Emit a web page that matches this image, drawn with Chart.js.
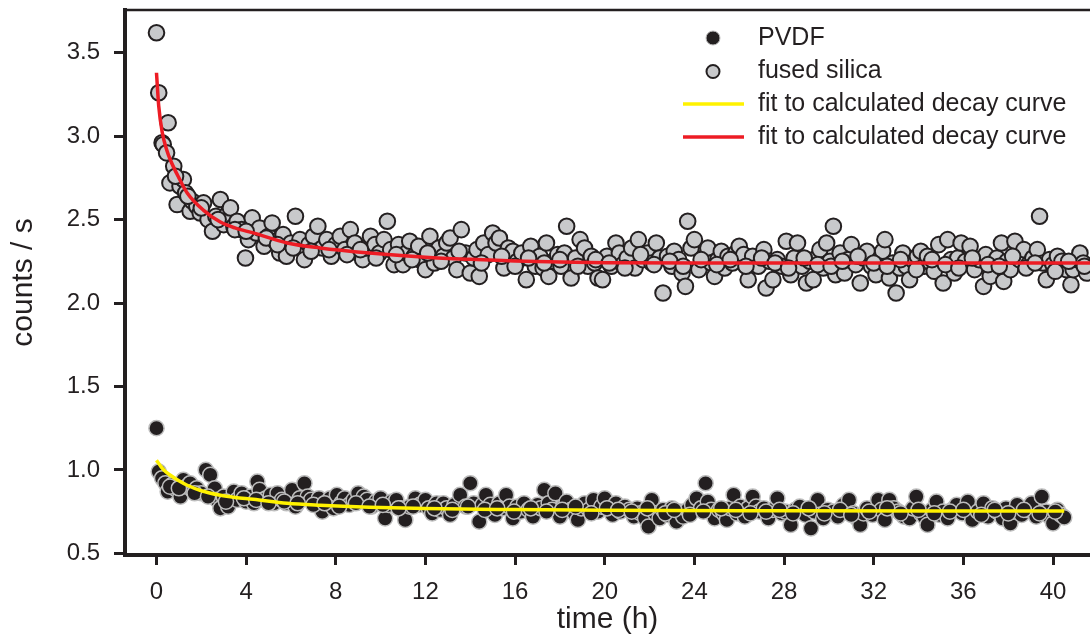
<!DOCTYPE html>
<html>
<head>
<meta charset="utf-8">
<script src="https://cdn.jsdelivr.net/npm/chart.js@4.4.1/dist/chart.umd.min.js"></script>
<style>
  body { margin: 0; background: #fff; }
  #wrap { width: 1090px; height: 639px; }
</style>
</head>
<body>
<div id="wrap"><canvas id="decayChart" width="1090" height="639"></canvas></div>
<script>
// fused silica, time (h) / counts per s
const silicaTime = [
  0, 0.1, 0.25, 0.3, 0.52, 0.6, 0.77, 0.92, 1.05, 1.2,
  1.3, 1.5, 1.6, 1.8, 1.95, 2.1, 2.3, 2.5, 2.65, 2.85,
  3.0, 3.15, 3.3, 3.45, 3.6, 3.8, 3.97, 4.1, 4.27, 4.45,
  4.6, 4.8, 5.0, 5.16, 5.3, 5.5, 5.65, 5.8, 6.0, 6.2,
  6.4, 6.6, 6.8, 7.0, 7.2, 7.4, 7.6, 7.8, 8.0, 8.2,
  8.4, 8.65, 8.85, 9.0, 9.2, 9.35, 9.55, 9.75, 9.95, 10.15,
  10.3, 10.45, 10.6, 10.8, 11.0, 11.15, 11.3, 11.5, 11.7, 11.85,
  12.0, 12.2, 12.4, 12.6, 12.8, 12.95, 13.1, 13.25, 13.4, 13.6,
  13.8, 14.0, 14.15, 14.3, 14.4, 14.6, 14.8, 15.0, 15.15, 15.3,
  15.5, 15.7, 15.9, 16.1, 16.3, 16.5, 16.7, 16.9, 17.1, 17.25,
  17.4, 17.5, 17.7, 17.9, 18.05, 18.2, 18.3, 18.5, 18.7, 18.9,
  19.1, 19.25, 19.4, 19.55, 19.7, 19.9, 20.1, 20.3, 20.5, 20.65,
  20.8, 21.0, 21.2, 21.35, 21.5, 21.7, 21.9, 22.1, 22.3, 22.45,
  22.6, 22.8, 23.0, 23.1, 23.3, 23.45, 23.6, 23.7, 23.85, 24.0,
  24.2, 24.4, 24.6, 24.75, 24.9, 25.05, 25.2, 25.35, 25.5, 25.7,
  25.85, 26.0, 26.2, 26.4, 26.6, 26.85, 27.1, 27.2, 27.35, 27.5,
  27.7, 27.9, 28.1, 28.3, 28.45, 28.6, 28.8, 29.0, 29.15, 29.3,
  29.45, 29.6, 29.75, 29.9, 30.05, 30.2, 30.3, 30.5, 30.7, 30.85,
  31.0, 31.2, 31.4, 31.55, 31.7, 31.9, 32.1, 32.25, 32.4, 32.5,
  32.7, 32.85, 33.0, 33.15, 33.3, 33.45, 33.6, 33.8, 33.95, 34.1,
  34.25, 34.4, 34.55, 34.7, 34.9, 35.1, 35.3, 35.45, 35.6, 35.75,
  35.9, 36.1, 36.3, 36.5, 36.7, 36.9, 37.0, 37.2, 37.35, 37.5,
  37.7, 37.8, 37.95, 38.1, 38.3, 38.5, 38.7, 38.9, 39.1, 39.3,
  39.4, 39.55, 39.7, 39.85, 40.0, 40.2, 40.4, 40.6, 40.8, 40.9,
  41.05, 41.2, 41.35, 41.5,
  // points hidden inside the band
  0.45, 0.85, 1.4, 2.0, 2.75, 3.5, 4.0, 4.9, 5.4, 6.1,
  6.9, 7.7, 8.5, 9.1, 9.8, 10.7, 11.4, 12.1, 12.7, 13.5,
  14.5, 15.4, 16.0, 16.6, 17.3, 18.0, 18.8, 19.6, 20.2, 20.9,
  21.6, 22.2, 22.9, 23.5, 24.3, 25.0, 25.6, 26.3, 27.0, 27.6,
  28.2, 28.9, 29.5, 30.1, 30.6, 31.3, 32.0, 32.6, 33.2, 33.9,
  34.6, 35.2, 35.8, 36.4, 37.1, 37.6, 38.2, 38.8, 39.2, 40.1,
  40.7, 41.4
];
const silicaCounts = [
  3.62, 3.26, 2.96, 2.95, 3.08, 2.72, 2.82, 2.59, 2.70, 2.74,
  2.66, 2.55, 2.61, 2.58, 2.54, 2.60, 2.50, 2.43, 2.52, 2.62,
  2.47, 2.53, 2.57, 2.46, 2.49, 2.44, 2.27, 2.38, 2.51, 2.42,
  2.45, 2.34, 2.40, 2.48, 2.37, 2.30, 2.41, 2.28, 2.36, 2.52,
  2.38, 2.26, 2.35, 2.40, 2.46, 2.33, 2.38, 2.28, 2.35, 2.40,
  2.32, 2.44, 2.36, 2.30, 2.26, 2.33, 2.40, 2.35, 2.30, 2.38,
  2.49, 2.32, 2.23, 2.35, 2.23, 2.30, 2.37, 2.28, 2.34, 2.25,
  2.20, 2.40, 2.24, 2.33, 2.28, 2.36, 2.39, 2.27, 2.20, 2.44,
  2.30, 2.18, 2.27, 2.32, 2.16, 2.36, 2.29, 2.42, 2.36, 2.39,
  2.21, 2.33, 2.31, 2.25, 2.30, 2.14, 2.34, 2.22, 2.28, 2.21,
  2.36, 2.16, 2.25, 2.29, 2.22, 2.30, 2.46, 2.15, 2.27, 2.38,
  2.33, 2.22, 2.28, 2.24, 2.15, 2.14, 2.28, 2.22, 2.36, 2.30,
  2.23, 2.27, 2.33, 2.21, 2.38, 2.26, 2.30, 2.24, 2.36, 2.27,
  2.06, 2.28, 2.22, 2.31, 2.26, 2.18, 2.10, 2.49, 2.33, 2.38,
  2.20, 2.27, 2.33, 2.24, 2.16, 2.26, 2.31, 2.21, 2.28, 2.24,
  2.30, 2.34, 2.29, 2.14, 2.28, 2.22, 2.32, 2.09, 2.25, 2.14,
  2.26, 2.22, 2.37, 2.17, 2.27, 2.36, 2.22, 2.12, 2.25, 2.14,
  2.27, 2.32, 2.21, 2.36, 2.25, 2.46, 2.17, 2.30, 2.18, 2.26,
  2.35, 2.23, 2.12, 2.27, 2.31, 2.22, 2.17, 2.26, 2.31, 2.38,
  2.15, 2.24, 2.06, 2.21, 2.30, 2.22, 2.14, 2.25, 2.28, 2.31,
  2.22, 2.28, 2.24, 2.19, 2.35, 2.12, 2.38, 2.26, 2.18, 2.27,
  2.36, 2.25, 2.34, 2.20, 2.26, 2.10, 2.29, 2.16, 2.24, 2.27,
  2.36, 2.13, 2.25, 2.20, 2.37, 2.26, 2.32, 2.23, 2.27, 2.32,
  2.52, 2.24, 2.14, 2.26, 2.23, 2.28, 2.25, 2.20, 2.11, 2.20,
  2.26, 2.30, 2.24, 2.18,
  2.90, 2.76, 2.64, 2.57, 2.50, 2.44, 2.43, 2.39, 2.35, 2.33,
  2.31, 2.32, 2.29, 2.32, 2.27, 2.29, 2.26, 2.30, 2.25, 2.31,
  2.24, 2.28, 2.22, 2.27, 2.24, 2.26, 2.22, 2.26, 2.24, 2.21,
  2.29, 2.23, 2.25, 2.22, 2.26, 2.23, 2.26, 2.22, 2.27, 2.24,
  2.21, 2.27, 2.23, 2.22, 2.25, 2.28, 2.24, 2.22, 2.26, 2.20,
  2.26, 2.23, 2.21, 2.27, 2.23, 2.22, 2.28, 2.21, 2.24, 2.19,
  2.25, 2.22
];

// PVDF
const pvdfTime = [
  0, 0.1, 0.25, 0.4, 0.5, 0.7, 0.9, 1.07, 1.2, 1.35,
  1.5, 1.65, 1.8, 2.0, 2.2, 2.4, 2.6, 2.7, 2.85, 3.0,
  3.2, 3.45, 3.6, 3.8, 4.0, 4.2, 4.35, 4.5, 4.6, 4.75,
  4.9, 5.1, 5.25, 5.4, 5.6, 5.8, 6.05, 6.2, 6.4, 6.6,
  6.75, 6.9, 7.1, 7.25, 7.4, 7.6, 7.75, 7.9, 8.05, 8.25,
  8.4, 8.6, 8.8, 9.0, 9.25, 9.4, 9.6, 9.8, 10.0, 10.2,
  10.35, 10.5, 10.7, 10.9, 11.1, 11.3, 11.55, 11.75, 12.0, 12.15,
  12.3, 12.5, 12.65, 12.8, 12.95, 13.1, 13.3, 13.55, 13.8, 14.0,
  14.15, 14.4, 14.55, 14.7, 14.9, 15.1, 15.3, 15.45, 15.6, 15.75,
  15.9, 16.1, 16.25, 16.4, 16.6, 16.8, 17.0, 17.15, 17.3, 17.5,
  17.65, 17.8, 18.0, 18.15, 18.3, 18.5, 18.65, 18.8, 18.95, 19.1,
  19.3, 19.5, 19.7, 19.85, 20.0, 20.2, 20.35, 20.5, 20.7, 20.9,
  21.1, 21.3, 21.45, 21.6, 21.8, 21.95, 22.1, 22.25, 22.45, 22.6,
  22.8, 23.0, 23.2, 23.35, 23.5, 23.7, 23.9, 24.1, 24.3, 24.5,
  24.6, 24.75, 24.9, 25.1, 25.3, 25.45, 25.6, 25.75, 25.9, 26.05,
  26.25, 26.4, 26.6, 26.75, 26.9, 27.1, 27.3, 27.5, 27.7, 27.9,
  28.05, 28.3, 28.5, 28.7, 28.95, 29.2, 29.35, 29.5, 29.75, 29.95,
  30.2, 30.4, 30.65, 30.9, 31.1, 31.25, 31.4, 31.55, 31.7, 31.95,
  32.2, 32.35, 32.5, 32.7, 32.9, 33.1, 33.35, 33.6, 33.75, 33.9,
  34.1, 34.25, 34.4, 34.6, 34.8, 34.95, 35.1, 35.3, 35.5, 35.7,
  35.95, 36.2, 36.4, 36.65, 36.9, 37.1, 37.3, 37.5, 37.75, 37.9,
  38.1, 38.25, 38.4, 38.6, 38.8, 39.05, 39.25, 39.5, 39.7, 39.85,
  40.0, 40.2, 40.35, 40.5,
  // points hidden inside the band
  0.6, 1.0, 1.7, 2.3, 3.1, 3.9, 4.45, 5.0, 5.7, 6.3,
  7.0, 7.5, 8.15, 8.9, 9.5, 10.1, 10.8, 11.45, 12.4, 13.2,
  13.9, 14.65, 15.2, 15.95, 16.7, 17.4, 18.1, 18.7, 19.4, 20.1,
  20.6, 21.2, 21.9, 22.7, 23.1, 23.8, 24.4, 25.2, 25.85, 26.5,
  27.2, 27.8, 28.4, 29.1, 29.8, 30.5, 31.0, 31.8, 32.6, 33.2,
  34.0, 34.7, 35.4, 36.0, 36.8, 37.4, 38.0, 38.7, 39.4, 40.1
];
const pvdfCounts = [
  1.25, 0.99, 0.95, 0.92, 0.87, 0.91, 0.88, 0.84, 0.94, 0.90,
  0.92, 0.87, 0.89, 0.86, 1.00, 0.97, 0.89, 0.82, 0.77, 0.84,
  0.78, 0.87, 0.82, 0.86, 0.81, 0.84, 0.80, 0.93, 0.88, 0.82,
  0.83, 0.85, 0.80, 0.86, 0.82, 0.80, 0.88, 0.78, 0.83, 0.92,
  0.84, 0.82, 0.79, 0.83, 0.75, 0.80, 0.83, 0.77, 0.85, 0.80,
  0.83, 0.79, 0.82, 0.86, 0.84, 0.82, 0.78, 0.81, 0.83, 0.71,
  0.79, 0.81, 0.82, 0.77, 0.70, 0.78, 0.83, 0.79, 0.82, 0.77,
  0.74, 0.80, 0.76, 0.80, 0.77, 0.73, 0.79, 0.85, 0.78, 0.92,
  0.80, 0.69, 0.79, 0.85, 0.79, 0.73, 0.80, 0.77, 0.85, 0.78,
  0.71, 0.78, 0.75, 0.80, 0.76, 0.72, 0.79, 0.77, 0.88, 0.80,
  0.76, 0.86, 0.72, 0.78, 0.81, 0.76, 0.74, 0.70, 0.77, 0.80,
  0.76, 0.82, 0.75, 0.78, 0.83, 0.77, 0.73, 0.80, 0.75, 0.78,
  0.76, 0.72, 0.77, 0.74, 0.71, 0.66, 0.82, 0.74, 0.71, 0.76,
  0.73, 0.77, 0.69, 0.75, 0.72, 0.76, 0.79, 0.83, 0.77, 0.92,
  0.81, 0.76, 0.71, 0.76, 0.74, 0.70, 0.77, 0.85, 0.74, 0.78,
  0.72, 0.77, 0.84, 0.78, 0.75, 0.77, 0.71, 0.76, 0.83, 0.74,
  0.75, 0.67, 0.76, 0.78, 0.73, 0.65, 0.75, 0.82, 0.71, 0.76,
  0.75, 0.72, 0.79, 0.82, 0.74, 0.71, 0.67, 0.74, 0.77, 0.73,
  0.82, 0.76, 0.70, 0.82, 0.77, 0.75, 0.72, 0.71, 0.77, 0.84,
  0.74, 0.72, 0.67, 0.76, 0.81, 0.73, 0.75, 0.71, 0.76, 0.79,
  0.74, 0.81, 0.70, 0.75, 0.80, 0.72, 0.77, 0.75, 0.71, 0.77,
  0.68, 0.75, 0.79, 0.73, 0.76, 0.80, 0.72, 0.84, 0.75, 0.72,
  0.68, 0.76, 0.73, 0.715,
  0.90, 0.89, 0.86, 0.84, 0.81, 0.83, 0.82, 0.80, 0.81, 0.80,
  0.79, 0.80, 0.78, 0.80, 0.78, 0.79, 0.77, 0.78, 0.77, 0.76,
  0.78, 0.76, 0.77, 0.75, 0.77, 0.75, 0.76, 0.78, 0.74, 0.77,
  0.76, 0.75, 0.77, 0.74, 0.76, 0.73, 0.75, 0.77, 0.76, 0.74,
  0.75, 0.76, 0.74, 0.77, 0.74, 0.76, 0.73, 0.75, 0.77, 0.74,
  0.76, 0.74, 0.75, 0.76, 0.73, 0.76, 0.74, 0.76, 0.74, 0.75
];

// fitted decay curves
const fitSilicaTime = [0, 0.1, 0.26, 0.45, 0.62, 1.0, 1.37, 2.09, 2.85, 3.5, 4.32, 5.83, 7.3, 9.5, 12, 14, 16, 18, 20, 25, 30, 35, 41.7];
const fitSilicaCounts = [3.38, 3.18, 3.02, 2.92, 2.857, 2.75, 2.66, 2.557, 2.485, 2.45, 2.42, 2.36, 2.33, 2.30, 2.275, 2.262, 2.252, 2.246, 2.242, 2.24, 2.24, 2.24, 2.24];
const fitPvdfTime = [0, 0.2, 0.4, 0.62, 1.0, 1.37, 2.0, 2.85, 3.5, 4.32, 5.83, 7.3, 9.5, 12, 16, 20, 28, 35, 40.5];
const fitPvdfCounts = [1.058, 1.02, 0.99, 0.968, 0.935, 0.908, 0.875, 0.848, 0.835, 0.824, 0.80, 0.788, 0.776, 0.768, 0.762, 0.758, 0.755, 0.754, 0.754];

const xTicks = [0, 4, 8, 12, 16, 20, 24, 28, 32, 36, 40];
const yTicks = [0.5, 1.0, 1.5, 2.0, 2.5, 3.0, 3.5];

const ink = '#231f20';
const fontFam = '"Liberation Sans", Arial, Helvetica, sans-serif';

function pairs(xs, ys) {
  return xs.map((x, i) => ({ x: x, y: ys[i] }));
}

// legend + top frame line
const extras = {
  id: 'extras',
  afterDraw(chart) {
    const ctx = chart.ctx;
    const area = chart.chartArea;
    ctx.save();
    ctx.strokeStyle = ink;
    ctx.lineWidth = 2.5;
    ctx.beginPath();
    ctx.moveTo(area.left - 2, area.top);
    ctx.lineTo(chart.width, area.top);
    ctx.stroke();

    ctx.font = '25px ' + fontFam;
    ctx.textBaseline = 'middle';
    ctx.textAlign = 'left';
    const textX = 758, markX = 713;
    const rows = [38, 71.5, 104, 137];

    ctx.beginPath();
    ctx.arc(markX, rows[0], 7, 0, Math.PI * 2);
    ctx.fillStyle = ink;
    ctx.fill();
    ctx.lineWidth = 1;
    ctx.strokeStyle = '#bdbdbd';
    ctx.stroke();

    ctx.beginPath();
    ctx.arc(markX, rows[1], 6.5, 0, Math.PI * 2);
    ctx.fillStyle = '#c8c9cb';
    ctx.fill();
    ctx.lineWidth = 2;
    ctx.strokeStyle = ink;
    ctx.stroke();

    ctx.lineWidth = 3.5;
    ctx.strokeStyle = '#fff200';
    ctx.beginPath();
    ctx.moveTo(683, rows[2]); ctx.lineTo(744, rows[2]);
    ctx.stroke();
    ctx.strokeStyle = '#ed1c24';
    ctx.beginPath();
    ctx.moveTo(683, rows[3]); ctx.lineTo(744, rows[3]);
    ctx.stroke();

    ctx.fillStyle = ink;
    ctx.fillText('PVDF', textX, rows[0]);
    ctx.fillText('fused silica', textX, rows[1]);
    ctx.fillText('fit to calculated decay curve', textX, rows[2]);
    ctx.fillText('fit to calculated decay curve', textX, rows[3]);
    ctx.restore();
  }
};

const myChart = new Chart(document.getElementById('decayChart'), {
  type: 'scatter',
  data: {
    datasets: [
      {
        label: 'fit to calculated decay curve',
        data: pairs(fitPvdfTime, fitPvdfCounts),
        showLine: true,
        borderColor: '#fff200',
        borderWidth: 3.5,
        pointRadius: 0,
        cubicInterpolationMode: 'monotone',
        order: 0
      },
      {
        label: 'fit to calculated decay curve',
        data: pairs(fitSilicaTime, fitSilicaCounts),
        showLine: true,
        borderColor: '#ed1c24',
        borderWidth: 3.5,
        pointRadius: 0,
        cubicInterpolationMode: 'monotone',
        order: 0
      },
      {
        label: 'PVDF',
        data: pairs(pvdfTime, pvdfCounts),
        pointRadius: 7.6,
        pointBackgroundColor: ink,
        pointBorderColor: '#bdbdbd',
        pointBorderWidth: 1.5,
        order: 1
      },
      {
        label: 'fused silica',
        data: pairs(silicaTime, silicaCounts),
        pointRadius: 7.8,
        pointBackgroundColor: '#c8c9cb',
        pointBorderColor: ink,
        pointBorderWidth: 2,
        order: 1
      }
    ]
  },
  options: {
    responsive: false,
    animation: false,
    layout: { autoPadding: false, padding: { top: 10, right: 0, left: 0, bottom: 0 } },
    plugins: { legend: { display: false }, tooltip: { enabled: false } },
    scales: {
      x: {
        type: 'linear',
        min: -1.405,
        max: 41.65,
        afterBuildTicks: s => { s.ticks = xTicks.map(v => ({ value: v })); },
        afterFit: s => { s.height = 84; s.paddingLeft = 0; s.paddingRight = 0; },
        grid: { display: true, drawOnChartArea: false, drawTicks: true, tickLength: 10, lineWidth: 3, color: ink },
        border: { display: true, width: 4, color: ink },
        ticks: { padding: 13, color: ink, font: { family: fontFam, size: 24 }, maxRotation: 0, autoSkip: false },
        title: { display: true, text: 'time (h)', color: ink, font: { family: fontFam, size: 30 }, padding: { top: 0, bottom: 1 } }
      },
      y: {
        type: 'linear',
        min: 0.49,
        max: 3.756,
        afterBuildTicks: s => { s.ticks = yTicks.map(v => ({ value: v })); },
        afterFit: s => { s.width = 125; s.paddingTop = 0; s.paddingBottom = 0; },
        grid: { display: true, drawOnChartArea: false, drawTicks: true, tickLength: 11, lineWidth: 3, color: ink },
        border: { display: true, width: 4, color: ink },
        ticks: { padding: 14, color: ink, font: { family: fontFam, size: 24 }, callback: v => v.toFixed(1) },
        title: { display: true, text: 'counts / s', color: ink, font: { family: fontFam, size: 30 }, padding: { top: 6, bottom: 0 } }
      }
    }
  },
  plugins: [extras]
});
</script>
</body>
</html>
